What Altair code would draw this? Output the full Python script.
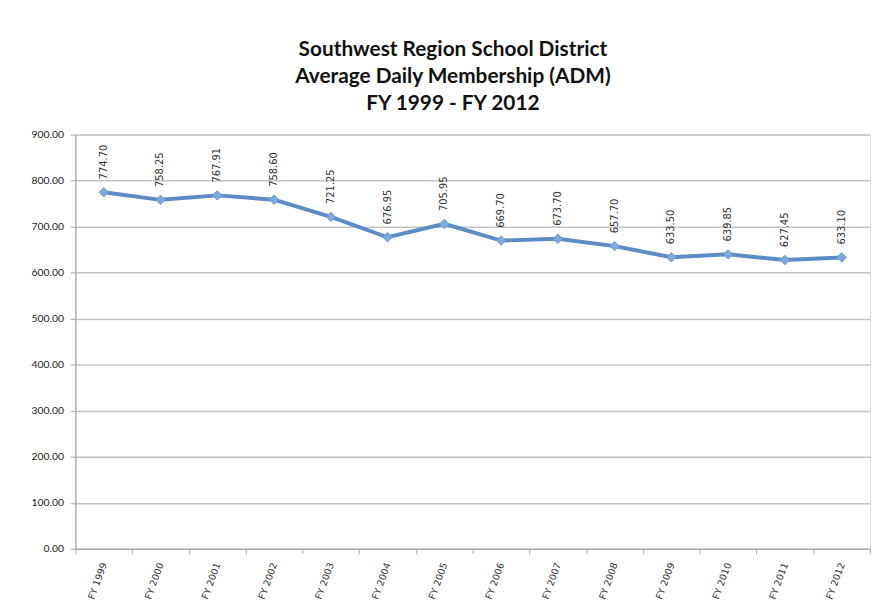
import altair as alt
import pandas as pd

years = ["FY 1999", "FY 2000", "FY 2001", "FY 2002", "FY 2003", "FY 2004", "FY 2005",
         "FY 2006", "FY 2007", "FY 2008", "FY 2009", "FY 2010", "FY 2011", "FY 2012"]
adm = [774.70, 758.25, 767.91, 758.60, 721.25, 676.95, 705.95,
       669.70, 673.70, 657.70, 633.50, 639.85, 627.45, 633.10]
y_ticks = [0, 100, 200, 300, 400, 500, 600, 700, 800, 900]

df = pd.DataFrame({"year": years, "adm": adm})

x = alt.X("year:N", sort=years, title=None,
          scale=alt.Scale(paddingInner=0, paddingOuter=0),
          axis=alt.Axis(labelAngle=-70, labelAlign="right", labelBaseline="middle",
                        labelFont="DejaVu Sans", labelFontSize=9.5, labelColor="#333333",
                        labelPadding=9,
                        domainColor="#A6A6A6", domainWidth=1.2,
                        tickColor="#A6A6A6", tickBand="extent", tickSize=5,
                        grid=False))
y = alt.Y("adm:Q", title=None,
          scale=alt.Scale(domain=[0, 900], nice=False),
          axis=alt.Axis(values=y_ticks, format=".2f", labelFont="Lato", labelFontSize=10.5,
                        labelColor="#1a1a1a", labelPadding=7,
                        domainColor="#A6A6A6", domainWidth=1.2,
                        tickColor="#A6A6A6", tickSize=5,
                        gridColor="#C4C4C4", gridWidth=1.5))

base = alt.Chart(df).encode(x=x, y=y)

line = base.mark_line(color="#5B8CC6", strokeWidth=4)
points = base.mark_point(shape="diamond", filled=True, size=90, color="#7EA9DC",
                         opacity=1, stroke="#6D9BD3", strokeWidth=1)
labels = base.mark_text(angle=270, align="left", baseline="middle", dx=13,
                        font="DejaVu Sans", fontSize=10, color="#333333").encode(
    text=alt.Text("adm:Q", format=".2f"))

chart = alt.layer(line, points, labels).properties(
    width=802, height=418,
    autosize=alt.AutoSizeParams(type="none"),
    padding={"left": 68, "top": 125, "right": 7, "bottom": 60},
    title=alt.TitleParams(
        text=["Southwest Region School District", "Average Daily Membership (ADM)",
              "FY 1999 - FY 2012"],
        font="Lato", fontSize=21, fontWeight="bold", color="#111111",
        lineHeight=27, anchor="middle", dx=-20, offset=16)
).configure_view(stroke=None).configure(background="white")

chart.save("out.html", embed_options={"renderer": "svg", "actions": False})
